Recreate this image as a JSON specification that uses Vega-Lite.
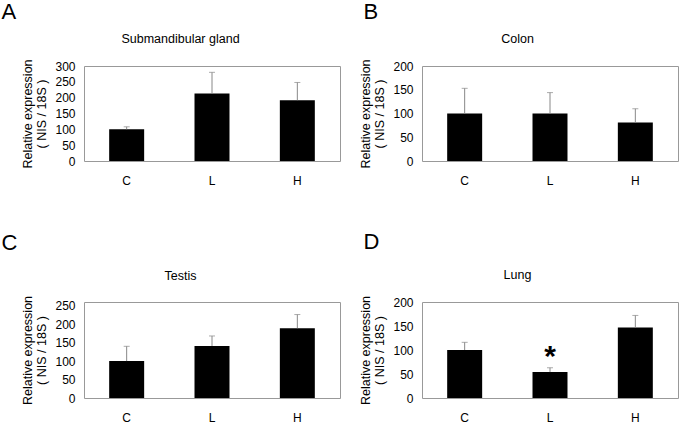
{
  "$schema": "https://vega.github.io/schema/vega-lite/v6.json",
  "background": "white",
  "padding": {"left": 0, "top": 0, "right": 3, "bottom": 5},
  "config": {
    "font": "Liberation Sans",
    "view": {"stroke": "#999999", "strokeWidth": 1},
    "axis": {"labelFont": "Liberation Sans", "titleFont": "Liberation Sans", "labelColor": "black", "titleColor": "black", "labelOverlap": false},
    "axisY": {"titleFontSize": 12.5, "titleFontWeight": "normal", "titlePadding": 6, "labelFontSize": 12, "labelPadding": 9, "ticks": false, "domain": false, "grid": false, "labelOverlap": false},
    "title": {"font": "Liberation Sans", "fontWeight": "normal", "color": "black"}
  },
  "data": {"values": [
    {"panel": "A", "group": "C", "value": 100, "upper": 108, "sig": ""},
    {"panel": "A", "group": "L", "value": 213, "upper": 280, "sig": ""},
    {"panel": "A", "group": "H", "value": 192, "upper": 248, "sig": ""},
    {"panel": "B", "group": "C", "value": 100, "upper": 153, "sig": ""},
    {"panel": "B", "group": "L", "value": 100, "upper": 144, "sig": ""},
    {"panel": "B", "group": "H", "value": 81, "upper": 110, "sig": ""},
    {"panel": "C", "group": "C", "value": 100, "upper": 140, "sig": ""},
    {"panel": "C", "group": "L", "value": 141, "upper": 168, "sig": ""},
    {"panel": "C", "group": "H", "value": 189, "upper": 226, "sig": ""},
    {"panel": "D", "group": "C", "value": 100, "upper": 116, "sig": ""},
    {"panel": "D", "group": "L", "value": 54, "upper": 63, "sig": "*"},
    {"panel": "D", "group": "H", "value": 147, "upper": 172, "sig": ""}
  ]},
  "columns": 2,
  "bounds": "flush",
  "spacing": {"row": 141, "column": 82},
  "concat": [
    {
      "title": {"text": "A", "anchor": "start", "frame": "bounds", "align": "left", "baseline": "alphabetic", "fontSize": 22, "dx": -20, "offset": -9},
      "width": 256, "height": 95,
      "transform": [{"filter": "datum.panel === 'A'"}],
      "layer": [
        {"mark": {"type": "bar", "color": "black"},
         "encoding": {
           "x": {"field": "group", "type": "nominal", "sort": ["C", "L", "H"], "scale": {"paddingInner": 0.59, "paddingOuter": 0.295},
                 "axis": {"title": null, "labelAngle": 0, "labelFontSize": 12, "labelPadding": 14, "ticks": false, "domain": false}},
           "y": {"field": "value", "type": "quantitative", "scale": {"domain": [0, 300]}, "axis": {"title": ["Relative expression", "( NIS / 18S )"], "values": [0, 50, 100, 150, 200, 250, 300]}}
         }},
        {"mark": {"type": "rule", "color": "#888888", "strokeWidth": 1},
         "encoding": {
           "x": {"field": "group", "type": "nominal", "sort": ["C", "L", "H"],
                 "axis": {"orient": "top", "labels": false, "ticks": false, "domain": false, "title": "Submandibular gland", "titleFontSize": 12.5, "titleFontWeight": "normal", "titleX": 96, "titleY": -24, "titleBaseline": "alphabetic", "titleAlign": "center"}},
           "y": {"field": "value", "type": "quantitative", "axis": {"title": ["Relative expression", "( NIS / 18S )"], "values": [0, 50, 100, 150, 200, 250, 300]}},
           "y2": {"field": "upper"}
         }},
        {"mark": {"type": "tick", "color": "#888888", "size": 6, "thickness": 1},
         "encoding": {
           "x": {"field": "group", "type": "nominal", "sort": ["C", "L", "H"], "axis": null},
           "y": {"field": "upper", "type": "quantitative", "axis": {"title": ["Relative expression", "( NIS / 18S )"], "values": [0, 50, 100, 150, 200, 250, 300]}}
         }}
      ],
      "resolve": {"axis": {"x": "independent"}}
    },
    {
      "title": {"text": "B", "anchor": "start", "frame": "bounds", "align": "left", "baseline": "alphabetic", "fontSize": 22, "dx": 4, "offset": -9},
      "width": 256, "height": 95,
      "transform": [{"filter": "datum.panel === 'B'"}],
      "layer": [
        {"mark": {"type": "bar", "color": "black"},
         "encoding": {
           "x": {"field": "group", "type": "nominal", "sort": ["C", "L", "H"], "scale": {"paddingInner": 0.59, "paddingOuter": 0.295},
                 "axis": {"title": null, "labelAngle": 0, "labelFontSize": 12, "labelPadding": 14, "ticks": false, "domain": false}},
           "y": {"field": "value", "type": "quantitative", "scale": {"domain": [0, 200]}, "axis": {"title": ["Relative expression", "( NIS / 18S )"], "values": [0, 50, 100, 150, 200]}}
         }},
        {"mark": {"type": "rule", "color": "#888888", "strokeWidth": 1},
         "encoding": {
           "x": {"field": "group", "type": "nominal", "sort": ["C", "L", "H"],
                 "axis": {"orient": "top", "labels": false, "ticks": false, "domain": false, "title": "Colon", "titleFontSize": 12.5, "titleFontWeight": "normal", "titleX": 95, "titleY": -24, "titleBaseline": "alphabetic", "titleAlign": "center"}},
           "y": {"field": "value", "type": "quantitative", "axis": {"title": ["Relative expression", "( NIS / 18S )"], "values": [0, 50, 100, 150, 200]}},
           "y2": {"field": "upper"}
         }},
        {"mark": {"type": "tick", "color": "#888888", "size": 6, "thickness": 1},
         "encoding": {
           "x": {"field": "group", "type": "nominal", "sort": ["C", "L", "H"], "axis": null},
           "y": {"field": "upper", "type": "quantitative", "axis": {"title": ["Relative expression", "( NIS / 18S )"], "values": [0, 50, 100, 150, 200]}}
         }}
      ],
      "resolve": {"axis": {"x": "independent"}}
    },
    {
      "title": {"text": "C", "anchor": "start", "frame": "bounds", "align": "left", "baseline": "alphabetic", "fontSize": 22, "dx": -20, "offset": -3},
      "width": 256, "height": 96,
      "transform": [{"filter": "datum.panel === 'C'"}],
      "layer": [
        {"mark": {"type": "bar", "color": "black"},
         "encoding": {
           "x": {"field": "group", "type": "nominal", "sort": ["C", "L", "H"], "scale": {"paddingInner": 0.59, "paddingOuter": 0.295},
                 "axis": {"title": null, "labelAngle": 0, "labelFontSize": 12, "labelPadding": 14, "ticks": false, "domain": false}},
           "y": {"field": "value", "type": "quantitative", "scale": {"domain": [0, 250]}, "axis": {"title": ["Relative expression", "( NIS / 18S )"], "values": [0, 50, 100, 150, 200, 250]}}
         }},
        {"mark": {"type": "rule", "color": "#888888", "strokeWidth": 1},
         "encoding": {
           "x": {"field": "group", "type": "nominal", "sort": ["C", "L", "H"],
                 "axis": {"orient": "top", "labels": false, "ticks": false, "domain": false, "title": "Testis", "titleFontSize": 12.5, "titleFontWeight": "normal", "titleX": 96, "titleY": -23, "titleBaseline": "alphabetic", "titleAlign": "center"}},
           "y": {"field": "value", "type": "quantitative", "axis": {"title": ["Relative expression", "( NIS / 18S )"], "values": [0, 50, 100, 150, 200, 250]}},
           "y2": {"field": "upper"}
         }},
        {"mark": {"type": "tick", "color": "#888888", "size": 6, "thickness": 1},
         "encoding": {
           "x": {"field": "group", "type": "nominal", "sort": ["C", "L", "H"], "axis": null},
           "y": {"field": "upper", "type": "quantitative", "axis": {"title": ["Relative expression", "( NIS / 18S )"], "values": [0, 50, 100, 150, 200, 250]}}
         }}
      ],
      "resolve": {"axis": {"x": "independent"}}
    },
    {
      "title": {"text": "D", "anchor": "start", "frame": "bounds", "align": "left", "baseline": "alphabetic", "fontSize": 22, "dx": 4, "offset": -3},
      "width": 256, "height": 96,
      "transform": [{"filter": "datum.panel === 'D'"}],
      "layer": [
        {"mark": {"type": "bar", "color": "black"},
         "encoding": {
           "x": {"field": "group", "type": "nominal", "sort": ["C", "L", "H"], "scale": {"paddingInner": 0.59, "paddingOuter": 0.295},
                 "axis": {"title": null, "labelAngle": 0, "labelFontSize": 12, "labelPadding": 14, "ticks": false, "domain": false}},
           "y": {"field": "value", "type": "quantitative", "scale": {"domain": [0, 200]}, "axis": {"title": ["Relative expression", "( NIS / 18S )"], "values": [0, 50, 100, 150, 200]}}
         }},
        {"mark": {"type": "rule", "color": "#888888", "strokeWidth": 1},
         "encoding": {
           "x": {"field": "group", "type": "nominal", "sort": ["C", "L", "H"],
                 "axis": {"orient": "top", "labels": false, "ticks": false, "domain": false, "title": "Lung", "titleFontSize": 12.5, "titleFontWeight": "normal", "titleX": 95, "titleY": -24, "titleBaseline": "alphabetic", "titleAlign": "center"}},
           "y": {"field": "value", "type": "quantitative", "axis": {"title": ["Relative expression", "( NIS / 18S )"], "values": [0, 50, 100, 150, 200]}},
           "y2": {"field": "upper"}
         }},
        {"mark": {"type": "tick", "color": "#888888", "size": 6, "thickness": 1},
         "encoding": {
           "x": {"field": "group", "type": "nominal", "sort": ["C", "L", "H"], "axis": null},
           "y": {"field": "upper", "type": "quantitative", "axis": {"title": ["Relative expression", "( NIS / 18S )"], "values": [0, 50, 100, 150, 200]}}
         }},
        {"transform": [{"filter": "datum.sig !== ''"}],
         "mark": {"type": "text", "fontSize": 30, "fontWeight": "bold", "baseline": "alphabetic", "dy": -2, "color": "black"},
         "encoding": {
           "x": {"field": "group", "type": "nominal", "sort": ["C", "L", "H"], "axis": null},
           "y": {"field": "upper", "type": "quantitative", "axis": {"title": ["Relative expression", "( NIS / 18S )"], "values": [0, 50, 100, 150, 200]}},
           "text": {"field": "sig"}
         }}
      ],
      "resolve": {"axis": {"x": "independent"}}
    }
  ]
}
